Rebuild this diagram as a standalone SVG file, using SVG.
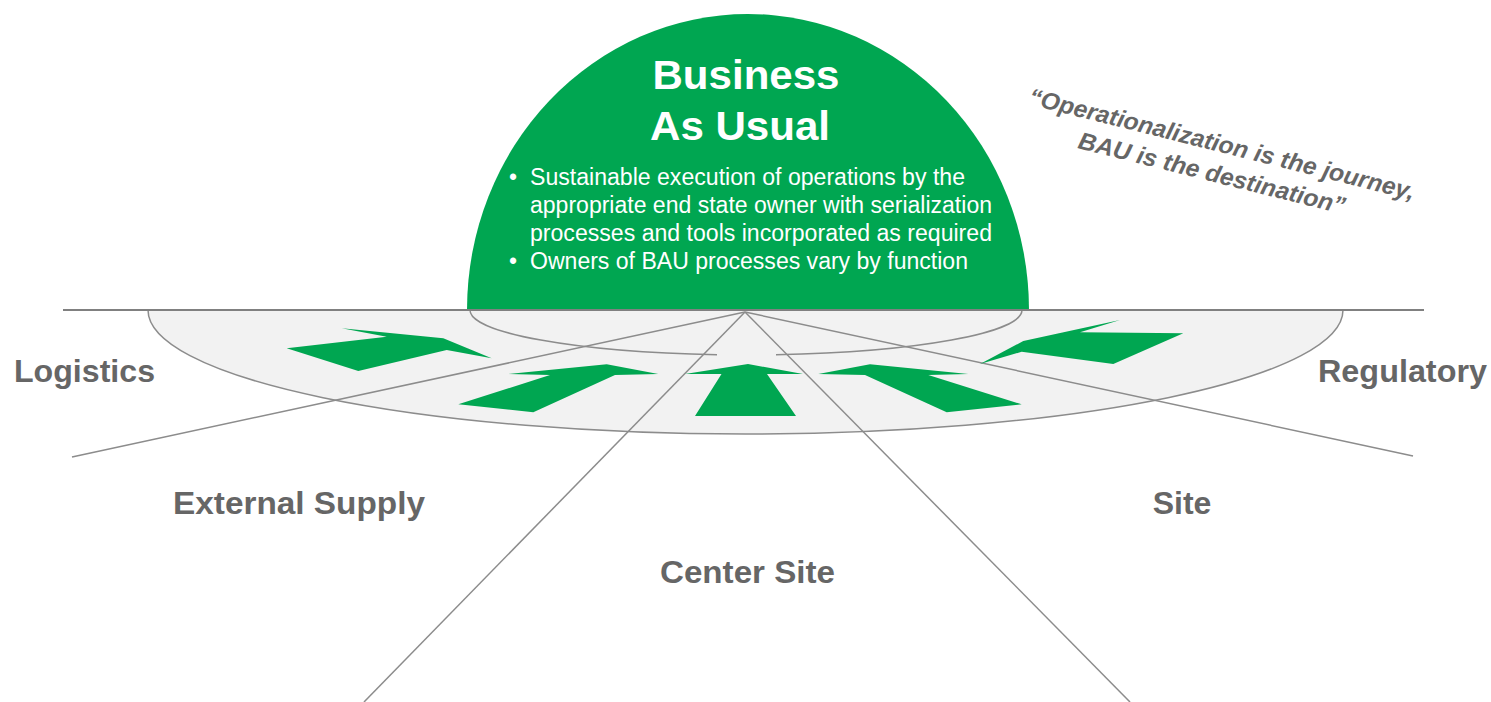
<svg xmlns="http://www.w3.org/2000/svg" width="1491" height="702" viewBox="0 0 1491 702">
<style>
.lbl{font-family:"Liberation Sans",Arial,sans-serif;font-weight:bold;font-size:32px;fill:#666666;text-anchor:middle}
.ttl{font-family:"Liberation Sans",Arial,sans-serif;font-weight:bold;font-size:41px;fill:#ffffff}
.bul{font-family:"Liberation Sans",Arial,sans-serif;font-size:23px;fill:#ffffff}
.quote{font-family:"Liberation Sans",Arial,sans-serif;font-weight:bold;font-style:italic;font-size:24px;fill:#666666;text-anchor:middle}
.arrow{fill:#00A651}
.conn{stroke:#8c8c8c;stroke-width:1.5;fill:none}
</style>
<rect width="1491" height="702" fill="#ffffff"/>
<g id="base-disc">
<path d="M148,310 A597.5,124 0 0 0 1343,310 Z" fill="#f2f2f2" stroke="#8c8c8c" stroke-width="1.5"/>
</g>
<g id="connectors">
<line class="conn" x1="745" y1="312" x2="72" y2="457"/>
<line class="conn" x1="745" y1="312" x2="1413" y2="456"/>
<line class="conn" x1="745" y1="312" x2="364" y2="702"/>
<line class="conn" x1="745" y1="312" x2="1130" y2="702"/>
<path class="conn" d="M470,310 A276,45 0 0 0 717,354.75"/>
<path class="conn" d="M776,354.75 A276,45 0 0 0 1022,310"/>
</g>
<g id="arrows">
<polygon id="arrow-logistics" class="arrow" points="286.7,348.3 386.7,336.7 341.7,328.3 443.3,338.3 491.7,358.3 446.7,350 358.3,371"/>
<polygon id="arrow-external-supply" class="arrow" points="508.3,374 606.7,364.3 658.3,374 615,375 533.3,412.3 458.3,404.3 550,375"/>
<polygon id="arrow-center-site" class="arrow" points="748,364 803,374 767,374 796,416 695,416 721.5,374 685,374"/>
<polygon id="arrow-site" class="arrow" points="818.3,374 870,364.3 968.3,374 928.3,375 1021.7,404.3 946.7,412.3 865,375"/>
<polygon id="arrow-regulatory" class="arrow" points="980,364 1023.3,341 1120,320 1080,332.3 1183.3,333.3 1113.3,364 1021.7,351.7"/>
</g>
<g id="bau">
<path d="M467,310 A281,296 0 0 1 1029,310 Z" fill="#00A651"/>
<text class="ttl" x="746" y="89" text-anchor="middle" textLength="187" lengthAdjust="spacingAndGlyphs">Business</text>
<text class="ttl" x="740" y="140" text-anchor="middle" textLength="180" lengthAdjust="spacingAndGlyphs">As Usual</text>
<text class="bul" x="509" y="185">•</text>
<text class="bul" x="530" y="185" textLength="435" lengthAdjust="spacingAndGlyphs">Sustainable execution of operations by the</text>
<text class="bul" x="530" y="213" textLength="462" lengthAdjust="spacingAndGlyphs">appropriate end state owner with serialization</text>
<text class="bul" x="530" y="241" textLength="462" lengthAdjust="spacingAndGlyphs">processes and tools incorporated as required</text>
<text class="bul" x="509" y="269">•</text>
<text class="bul" x="530" y="269" textLength="438" lengthAdjust="spacingAndGlyphs">Owners of BAU processes vary by function</text>
</g>
<line id="horizon" x1="63" y1="310" x2="1424" y2="310" stroke="#808080" stroke-width="2"/>
<g id="logistics"><text class="lbl" x="84.5" y="382" textLength="141" lengthAdjust="spacingAndGlyphs">Logistics</text></g>
<g id="regulatory"><text class="lbl" x="1402.5" y="382" textLength="169" lengthAdjust="spacingAndGlyphs">Regulatory</text></g>
<g id="external-supply"><text class="lbl" x="299" y="514" textLength="252" lengthAdjust="spacingAndGlyphs">External Supply</text></g>
<g id="site"><text class="lbl" x="1182" y="514">Site</text></g>
<g id="center-site"><text class="lbl" x="747.5" y="583" textLength="175" lengthAdjust="spacingAndGlyphs">Center Site</text></g>
<g id="quote" transform="translate(1215,166.5) rotate(14)">
<text class="quote" x="1.35" y="-15.3" textLength="397" lengthAdjust="spacingAndGlyphs">“Operationalization is the journey,</text>
<text class="quote" x="-1.35" y="15.3" textLength="274" lengthAdjust="spacingAndGlyphs">BAU is the destination”</text>
</g>
</svg>
